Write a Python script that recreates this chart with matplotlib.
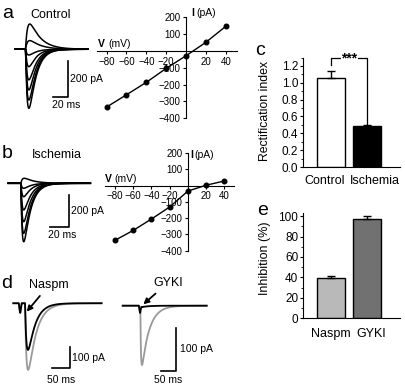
import numpy as np
import matplotlib
matplotlib.use('Agg')
import matplotlib.pyplot as plt

plt.rcParams['font.family'] = ['Liberation Sans', 'DejaVu Sans']

# I-V relations (mV, pA)
iv_v = [-80, -60, -40, -20, 0, 20, 40]
iv_control = [-333, -260, -186, -103, -28, 52, 147]
iv_ischemia = [-336, -275, -205, -131, -33, 3, 29]

# peak amplitudes of the example current families (pA)
trace_control = [140, 48, -32, -97, -170, -226, -282, -328]
trace_ischemia = [31, -31, -83, -165, -238, -310, -362]

# rectification index
rect_groups = ['Control', 'Ischemia']
rect_mean = [1.053, 0.487]
rect_sem = [0.087, 0.012]

# inhibition (%)
inh_groups = ['Naspm', 'GYKI']
inh_mean = [39.1, 97.1]
inh_sem = [2.5, 2.6]

# example EPSCs (pA): before (gray) and with drug (black)
naspm_amp = [-307, -215]
gyki_amp = [-138, -3]
naspm_art_t = [15, 17, 19, 21, 23]
naspm_art_i = [0, -30, -45, -20, 0]
gyki_art_t = [54, 56, 58, 60, 62]
gyki_art_i = [0, -10, -17, -8, 0]

W, H = 405, 385
fig = plt.figure(figsize=(W / 100, H / 100), dpi=100)


def px_axes(l, t, r, b):
    return fig.add_axes([l / W, 1 - b / H, (r - l) / W, (b - t) / H])


def ftxt(x, y, s, **kw):
    fig.text(x / W, 1 - y / H, s, **kw)


def epsc(t, t0, tr, td):
    s = np.clip(t - t0, 0, None)
    w = (1 - np.exp(-s / tr)) * np.exp(-s / td)
    return w / w.max()


# ---- current families (a, b)
def family(ax, amps, t_end, t0, tr, td_in, td_out, bar_t, bar_i, ms, pa):
    t = np.linspace(0, t_end, 800)
    for a in amps:
        td = td_out if a > 0 else td_in
        ax.plot(t, a * epsc(t, t0, tr, td), color='k', lw=1.1)
    ax.plot([bar_t - ms, bar_t, bar_t], [bar_i, bar_i, bar_i + pa], color='k', lw=1.2)
    ax.text(bar_t + 2, bar_i + pa / 2, '%d pA' % pa, fontsize=7.5, va='center', ha='left')
    ax.text(bar_t - ms - 2, bar_i - 20, '%d ms' % ms, fontsize=7.5, va='top', ha='left')
    ax.axis('off')


ax_ta = px_axes(10, 15, 100, 115)
ax_ta.set_xlim(-6.7, 113.3)
ax_ta.set_ylim(-365, 190)
family(ax_ta, trace_control, 97, 14, 3.5, 9, 14, 71, -263, 20, 200)

ax_tb = px_axes(5, 150, 100, 255)
ax_tb.set_xlim(-3.4, 95)
ax_tb.set_ylim(-444, 206)
family(ax_tb, trace_ischemia, 85, 13, 2, 7, 10, 63, -272, 20, 200)


# ---- I-V plots
def iv_panel(ax, v, i, xlim):
    ax.plot(v, i, color='k', lw=1, marker='o', ms=3.3)
    ax.set_xlim(xlim)
    ax.set_ylim(-400, 200)
    ax.patch.set_alpha(0)
    for s in ['top', 'right']:
        ax.spines[s].set_visible(False)
    ax.spines['left'].set_position(('data', 0))
    ax.spines['bottom'].set_position(('data', 0))
    ax.set_xticks([-80, -60, -40, -20, 20, 40])
    ax.set_yticks([200, 100, -100, -200, -300, -400])
    ax.tick_params(direction='out', length=2.5, width=0.8, labelsize=7, pad=1.5)


ax_iva = px_axes(96.7, 17.4, 236.7, 118.3)
iv_panel(ax_iva, iv_v, iv_control, (-90, 51))
ax_ivb = px_axes(105, 153.2, 234, 250.7)
iv_panel(ax_ivb, iv_v, iv_ischemia, (-91, 50.6))

ftxt(98, 46.7, 'V', fontsize=7.5, fontweight='bold', va='baseline')
ftxt(108, 46.7, '(mV)', fontsize=7.5, va='baseline')
ftxt(191.7, 15.5, 'I', fontsize=7.5, fontweight='bold', va='baseline')
ftxt(196, 15.5, '(pA)', fontsize=7.5, va='baseline')
ftxt(105, 181.7, 'V', fontsize=7.5, fontweight='bold', va='baseline')
ftxt(114, 181.7, '(mV)', fontsize=7.5, va='baseline')
ftxt(190, 158, 'I', fontsize=7.5, fontweight='bold', va='baseline')
ftxt(194.5, 158, '(pA)', fontsize=7.5, va='baseline')


# ---- bar charts (c, e)
def bar_panel(ax, groups, mean, sem, colors, ylim, ticks, minor, label_x, pad):
    x = np.arange(len(groups))
    ax.bar(x, mean, width=0.77, color=colors, edgecolor='k', linewidth=1)
    ax.errorbar(x, mean, yerr=[[0] * len(sem), sem], fmt='none', ecolor='k',
                elinewidth=1, capsize=3.2, capthick=1)
    ax.set_xlim(-0.778, 1.917)
    ax.set_ylim(ylim)
    ax.set_yticks(ticks)
    ax.set_yticks(minor, minor=True)
    ax.set_xticks(label_x)
    ax.set_xticklabels(groups)
    for s in ['top', 'right']:
        ax.spines[s].set_visible(False)
    ax.tick_params(axis='y', which='major', direction='out', length=2, width=0.8,
                   labelsize=8.5, pad=1.5)
    ax.tick_params(axis='y', which='minor', direction='out', length=1.2, width=0.6)
    ax.tick_params(axis='x', length=0, labelsize=9, pad=pad)


ax_c = px_axes(303, 57.5, 400, 167)
bar_panel(ax_c, rect_groups, rect_mean, rect_sem, ['white', 'black'], (0, 1.3),
          np.arange(0, 1.21, 0.2), np.arange(0, 1.31, 0.1), [-0.17, 1.22], 6)
ax_c.set_yticklabels(['%.1f' % v for v in np.arange(0, 1.21, 0.2)])
ax_c.plot([0, 0, 1, 1], [1.21, 1.30, 1.30, 0.51], color='k', lw=0.9, clip_on=False)
ax_c.text(0.51, 1.285, '***', ha='center', va='center', fontsize=10, fontweight='bold',
          bbox=dict(facecolor='white', edgecolor='none', pad=0.5), clip_on=False)

ax_e = px_axes(303, 213, 400, 318.3)
bar_panel(ax_e, inh_groups, inh_mean, inh_sem, ['#b9b9b9', '#717171'], (0, 103),
          np.arange(0, 101, 20), np.arange(0, 101, 10), [0, 1.13], 7)

ftxt(265, 111, 'Rectification index', rotation=90, fontsize=8.8, ha='center', va='center')
ftxt(265, 258, 'Inhibition (%)', rotation=90, fontsize=9, ha='center', va='center')


# ---- example EPSCs (d)
def epsc_panel(ax, amps, t_end, t0, tr, td, art_t, art_i, bar_t, bar_i, pa_len):
    t = np.linspace(0, t_end, 1200)
    art = np.interp(t, art_t, art_i)
    ax.plot(t, amps[0] * epsc(t, t0, tr, td) + art, color='#999999', lw=1.3)
    ax.plot(t, amps[1] * epsc(t, t0, tr, td * 0.9) + art, color='k', lw=1.3)
    ax.plot([bar_t - 50, bar_t, bar_t], [bar_i, bar_i, bar_i + pa_len], color='k', lw=1.2)
    ax.axis('off')


ax_na = px_axes(5, 290, 110, 385)
ax_na.set_xlim(-22.7, 264)
ax_na.set_ylim(-376.5, 61)
epsc_panel(ax_na, naspm_amp, 241, 32, 5, 22, naspm_art_t, naspm_art_i, 155, -300, 100)
ax_na.text(160, -250, '100 pA', fontsize=7.5, va='center')
ax_na.text(130, -330, '50 ms', fontsize=7.5, ha='center', va='top')
ax_na.annotate('Naspm', xy=(36.6, -38.7), xytext=(97.5, 84), fontsize=9,
               ha='center', va='center', annotation_clip=False,
               arrowprops=dict(arrowstyle='-|>', color='k', lw=1.3, mutation_scale=8,
                               shrinkA=2, shrinkB=0))

ax_gy = px_axes(115, 290, 215, 385)
ax_gy.set_xlim(-25.7, 307.7)
ax_gy.set_ylim(-184.4, 36.5)
epsc_panel(ax_gy, gyki_amp, 280, 59, 2, 25, gyki_art_t, gyki_art_i, 176.7, -151, 100)
ax_gy.text(190, -100, '100 pA', fontsize=7.5, va='center')
ax_gy.text(151, -162, '50 ms', fontsize=7.5, ha='center', va='top')
ax_gy.annotate('GYKI', xy=(68.7, 3.3), xytext=(150, 52.8), fontsize=9,
               ha='center', va='center', annotation_clip=False,
               arrowprops=dict(arrowstyle='-|>', color='k', lw=1.3, mutation_scale=8,
                               shrinkA=2, shrinkB=0))

# ---- titles and panel letters
ftxt(30, 18.3, 'Control', fontsize=9, va='baseline')
ftxt(31.7, 158, 'Ischemia', fontsize=9, va='baseline')
for x, y, s in [(2, 18.3, 'a'), (2, 158, 'b'), (255, 55, 'c'), (1, 288.3, 'd'), (257, 215, 'e')]:
    ftxt(x, y, s, fontsize=14, va='baseline')

fig.savefig('out.png', dpi=100)
